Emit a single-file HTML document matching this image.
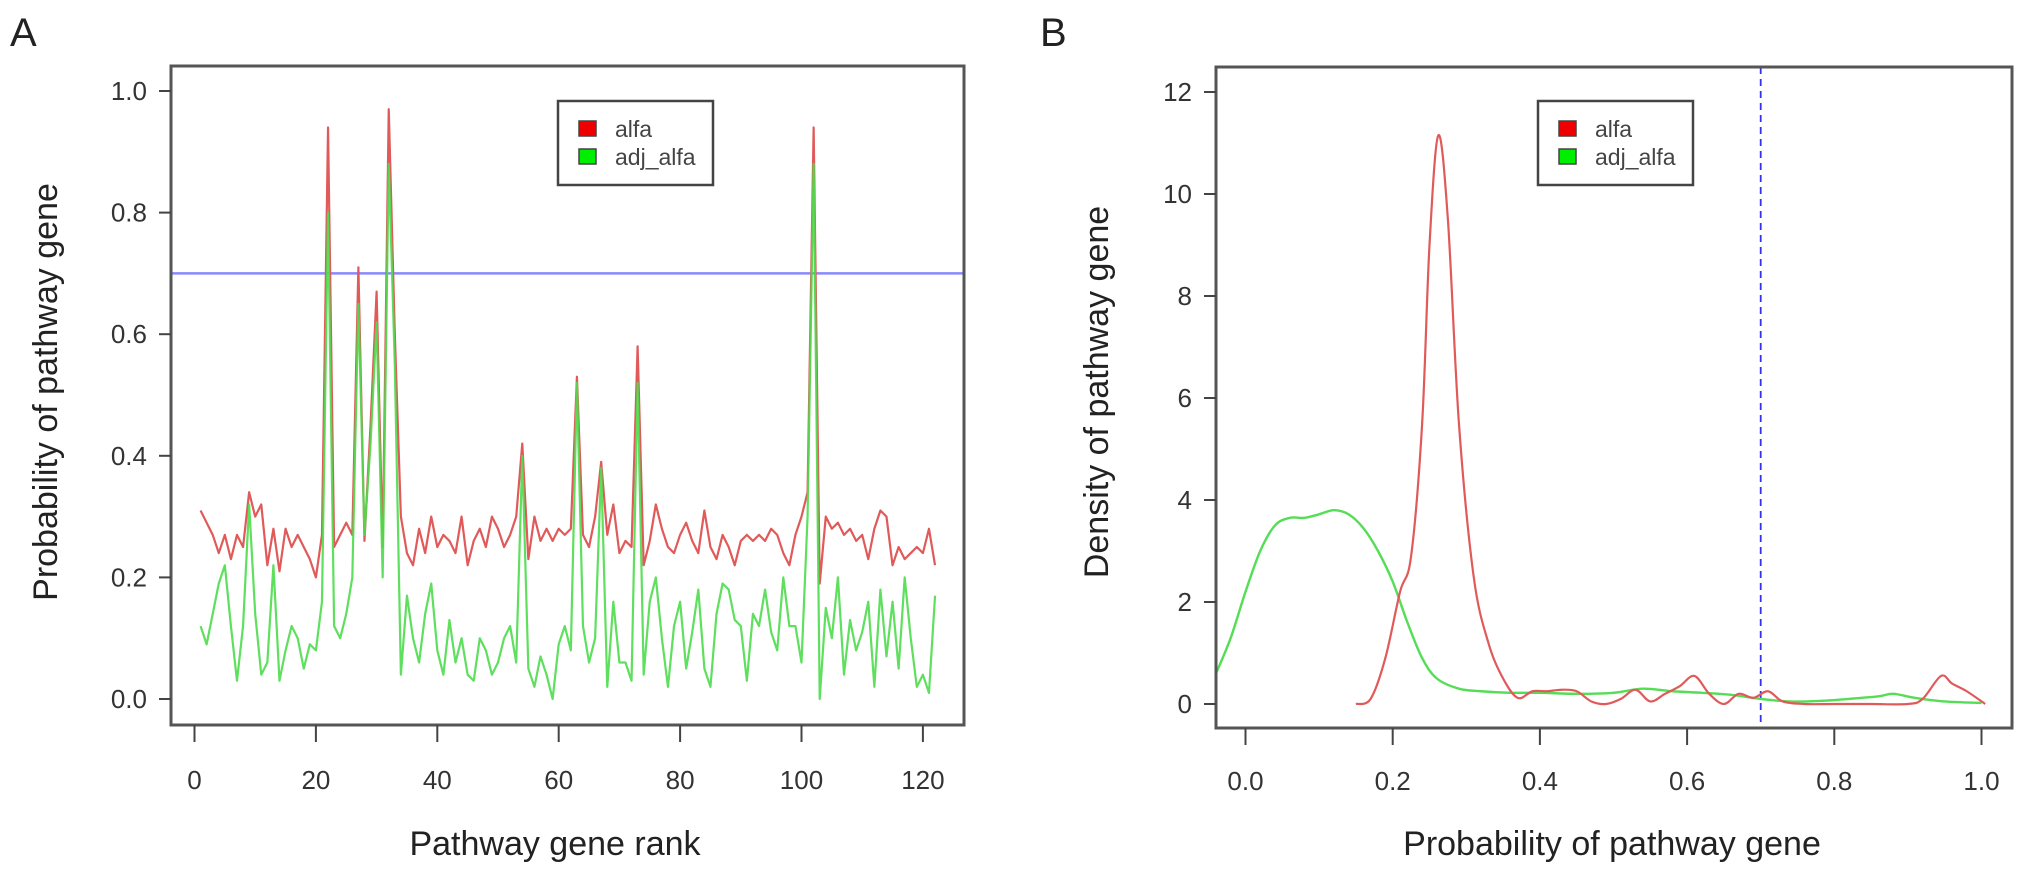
<!DOCTYPE html>
<html><head><meta charset="utf-8">
<style>
html,body{margin:0;padding:0;background:#fff;}
svg{display:block;font-family:"Liberation Sans",Arial,sans-serif;}
</style></head>
<body>
<svg id="chart" width="2031" height="879" viewBox="0 0 2031 879" xmlns="http://www.w3.org/2000/svg">
<text x="10" y="46" font-size="40" fill="#222">A</text>
<text x="1040" y="46" font-size="40" fill="#222">B</text>
<g id="pa"></g>
<g id="pb"></g>
</svg>
<script>
// Panel A data
const ranksA = Array.from({length:122},(_,i)=>i+1);
const alfa = [0.31,0.29,0.27,0.24,0.27,0.23,0.27,0.25,0.34,0.30,0.32,0.22,0.28,0.21,0.28,0.25,0.27,0.25,0.23,0.20,0.27,0.94,0.25,0.27,0.29,0.27,0.71,0.26,0.45,0.67,0.25,0.97,0.60,0.30,0.24,0.22,0.28,0.24,0.30,0.25,0.27,0.26,0.24,0.30,0.22,0.26,0.28,0.25,0.30,0.28,0.25,0.27,0.30,0.42,0.23,0.30,0.26,0.28,0.26,0.28,0.27,0.28,0.53,0.27,0.25,0.30,0.39,0.27,0.32,0.24,0.26,0.25,0.58,0.22,0.26,0.32,0.28,0.25,0.24,0.27,0.29,0.26,0.24,0.31,0.25,0.23,0.27,0.25,0.22,0.26,0.27,0.26,0.27,0.26,0.28,0.27,0.24,0.22,0.27,0.30,0.34,0.94,0.19,0.30,0.28,0.29,0.27,0.28,0.26,0.27,0.23,0.28,0.31,0.30,0.22,0.25,0.23,0.24,0.25,0.24,0.28,0.22];
const adjAlfa = [0.12,0.09,0.14,0.19,0.22,0.12,0.03,0.12,0.32,0.14,0.04,0.06,0.22,0.03,0.08,0.12,0.10,0.05,0.09,0.08,0.16,0.80,0.12,0.10,0.14,0.20,0.65,0.27,0.42,0.62,0.20,0.88,0.55,0.04,0.17,0.10,0.06,0.14,0.19,0.08,0.04,0.13,0.06,0.10,0.04,0.03,0.10,0.08,0.04,0.06,0.10,0.12,0.06,0.40,0.05,0.02,0.07,0.04,0.00,0.09,0.12,0.08,0.52,0.12,0.06,0.10,0.38,0.02,0.16,0.06,0.06,0.03,0.52,0.04,0.16,0.20,0.10,0.02,0.12,0.16,0.05,0.11,0.18,0.05,0.02,0.14,0.19,0.18,0.13,0.12,0.03,0.14,0.12,0.18,0.11,0.08,0.20,0.12,0.12,0.06,0.30,0.88,0.00,0.15,0.10,0.20,0.04,0.13,0.08,0.11,0.16,0.02,0.18,0.07,0.16,0.05,0.20,0.10,0.02,0.04,0.01,0.17];
const xTicksA = [0,20,40,60,80,100,120];
const yTicksA = [0.0,0.2,0.4,0.6,0.8,1.0];
const yTickLabelsA = ["0.0","0.2","0.4","0.6","0.8","1.0"];
const thresholdA = [0.7];
// Panel B data
const redX = [0.15,0.17,0.19,0.21,0.225,0.24,0.25,0.262,0.275,0.29,0.31,0.33,0.35,0.37,0.39,0.41,0.43,0.45,0.47,0.49,0.51,0.53,0.55,0.57,0.59,0.61,0.63,0.65,0.67,0.69,0.71,0.73,0.76,0.8,0.85,0.9,0.92,0.945,0.96,0.98,1.005];
const redY = [0,0.1,0.9,2.2,2.9,5.5,9.0,11.15,9.5,5.5,2.5,1.2,0.5,0.12,0.25,0.25,0.28,0.25,0.05,0,0.1,0.28,0.05,0.2,0.35,0.55,0.2,0,0.2,0.12,0.25,0.05,0,0,0,0,0.1,0.55,0.4,0.25,0];
const greenX = [-0.04,-0.02,0,0.02,0.04,0.06,0.08,0.10,0.12,0.14,0.16,0.18,0.20,0.22,0.24,0.26,0.29,0.32,0.36,0.40,0.45,0.50,0.54,0.58,0.62,0.66,0.70,0.74,0.78,0.82,0.86,0.88,0.91,0.95,1.0];
const greenY = [0.6,1.3,2.2,3.0,3.5,3.65,3.65,3.72,3.8,3.72,3.45,3.0,2.4,1.6,0.9,0.5,0.3,0.25,0.22,0.22,0.2,0.22,0.3,0.25,0.22,0.18,0.1,0.05,0.06,0.1,0.15,0.2,0.12,0.05,0.02];
const xTicksB = [0,0.2,0.4,0.6,0.8,1.0];
const xTickLabelsB = ["0.0","0.2","0.4","0.6","0.8","1.0"];
const yTicksB = [0,2,4,6,8,10,12];
const thresholdB = [0.7];

const NS="http://www.w3.org/2000/svg";
function mk(parent,tag,attrs,text){const e=document.createElementNS(NS,tag);for(const k in attrs)e.setAttribute(k,attrs[k]);if(text!==undefined)e.textContent=text;parent.appendChild(e);return e;}

// Panel A
const pa=document.getElementById('pa');
const xA=v=>194.5+6.07*v, yA=v=>699-608*v;
const boxA={l:171,t:66,r:964,b:725};
const clipA=mk(pa,'clipPath',{id:'clipA'});mk(clipA,'rect',{x:boxA.l,y:boxA.t,width:boxA.r-boxA.l,height:boxA.b-boxA.t});
const thrA=mk(pa,'line',{x1:boxA.l,x2:boxA.r,y1:yA(thresholdA[0]),y2:yA(thresholdA[0]),stroke:'#8888ff','stroke-width':2.5});


const lineRed=mk(pa,'polyline',{points:ranksA.map((r,i)=>xA(r)+','+yA(alfa[i])).join(' '),fill:'none',stroke:'#e05a5a','stroke-width':2.2,'clip-path':'url(#clipA)','stroke-linejoin':'round'});


const lineGreen=mk(pa,'polyline',{points:ranksA.map((r,i)=>xA(r)+','+yA(adjAlfa[i])).join(' '),fill:'none',stroke:'#4cdc4c','stroke-width':2.2,'opacity':0.9,'clip-path':'url(#clipA)','stroke-linejoin':'round'});


const frameA=mk(pa,'rect',{x:boxA.l,y:boxA.t,width:boxA.r-boxA.l,height:boxA.b-boxA.t,fill:'none',stroke:'#555','stroke-width':3});


xTicksA.forEach(v=>{
  const t=mk(pa,'line',{x1:xA(v),x2:xA(v),y1:boxA.b,y2:boxA.b+17,stroke:'#444','stroke-width':2});
  
  
  const l=mk(pa,'text',{x:xA(v),y:789,'font-size':26,'text-anchor':'middle',fill:'#333'},String(v));
  
  
});
yTicksA.forEach((v,i)=>{
  const t=mk(pa,'line',{x1:boxA.l-12,x2:boxA.l,y1:yA(v),y2:yA(v),stroke:'#444','stroke-width':2});
  
  
  const l=mk(pa,'text',{x:boxA.l-24,y:yA(v)+9,'font-size':26,'text-anchor':'end',fill:'#333'},yTickLabelsA[i]);
  
  
});
const xtA=mk(pa,'text',{x:555,y:855,'font-size':34,'text-anchor':'middle',fill:'#222'},'Pathway gene rank');


const ytA=mk(pa,'text',{x:0,y:0,'font-size':34,'text-anchor':'middle',fill:'#222',transform:'translate(57,392) rotate(-90)'},'Probability of pathway gene');


function legend(g,x,y,name){
  const lg=mk(g,'g',{});
  
  
  mk(lg,'rect',{x:x,y:y,width:155,height:84,fill:'#fff',stroke:'#444','stroke-width':2.5});
  mk(lg,'rect',{x:x+21,y:y+20,width:17,height:15,fill:'#ee0000',stroke:'#444','stroke-width':1.5});
  mk(lg,'rect',{x:x+21,y:y+48,width:17,height:15,fill:'#00ee00',stroke:'#444','stroke-width':1.5});
  const t1=mk(lg,'text',{x:x+57,y:y+36,'font-size':23,fill:'#444'},'alfa');
  
  
  const t2=mk(lg,'text',{x:x+57,y:y+64,'font-size':23,fill:'#444'},'adj_alfa');
  
  
}
legend(pa,558,101,'legend-a');

// Panel B
const pb=document.getElementById('pb');
const xB=v=>1245.5+736*v, yB=v=>704-51*v;
const boxB={l:1216,t:67,r:2012,b:728};
const clipB=mk(pb,'clipPath',{id:'clipB'});mk(clipB,'rect',{x:boxB.l,y:boxB.t,width:boxB.r-boxB.l,height:boxB.b-boxB.t});
const thrB=mk(pb,'line',{x1:xB(thresholdB[0]),x2:xB(thresholdB[0]),y1:boxB.t,y2:boxB.b,stroke:'#3333ee','stroke-width':1.8,'stroke-dasharray':'7,5'});


function smooth(xs,ys){let d='M'+xB(xs[0])+','+yB(ys[0]);
  for(let i=0;i<xs.length-1;i++){
    const p0=[xB(xs[Math.max(0,i-1)]),yB(ys[Math.max(0,i-1)])],p1=[xB(xs[i]),yB(ys[i])],p2=[xB(xs[i+1]),yB(ys[i+1])],p3=[xB(xs[Math.min(xs.length-1,i+2)]),yB(ys[Math.min(xs.length-1,i+2)])];
    const c1=[p1[0]+(p2[0]-p0[0])/6,p1[1]+(p2[1]-p0[1])/6],c2=[p2[0]-(p3[0]-p1[0])/6,p2[1]-(p3[1]-p1[1])/6];
    d+=' C'+c1.join(',')+' '+c2.join(',')+' '+p2.join(',');}
  return d;}
const dg=mk(pb,'path',{d:smooth(greenX,greenY),fill:'none',stroke:'#55dd55','stroke-width':2.4,'clip-path':'url(#clipB)'});


const dr=mk(pb,'path',{d:smooth(redX,redY),fill:'none',stroke:'#e05a5a','stroke-width':2.2,'clip-path':'url(#clipB)'});


const frameB=mk(pb,'rect',{x:boxB.l,y:boxB.t,width:boxB.r-boxB.l,height:boxB.b-boxB.t,fill:'none',stroke:'#555','stroke-width':3});


xTicksB.forEach((v,i)=>{
  const t=mk(pb,'line',{x1:xB(v),x2:xB(v),y1:boxB.b,y2:boxB.b+17,stroke:'#444','stroke-width':2});
  
  
  const l=mk(pb,'text',{x:xB(v),y:790,'font-size':26,'text-anchor':'middle',fill:'#333'},xTickLabelsB[i]);
  
  
});
yTicksB.forEach(v=>{
  const t=mk(pb,'line',{x1:boxB.l-12,x2:boxB.l,y1:yB(v),y2:yB(v),stroke:'#444','stroke-width':2});
  
  
  const l=mk(pb,'text',{x:boxB.l-24,y:yB(v)+9,'font-size':26,'text-anchor':'end',fill:'#333'},String(v));
  
  
});
const xtB=mk(pb,'text',{x:1612,y:855,'font-size':34,'text-anchor':'middle',fill:'#222'},'Probability of pathway gene');


const ytB=mk(pb,'text',{x:0,y:0,'font-size':34,'text-anchor':'middle',fill:'#222',transform:'translate(1108,392) rotate(-90)'},'Density of pathway gene');


legend(pb,1538,101,'legend-b');
</script>
</body></html>
